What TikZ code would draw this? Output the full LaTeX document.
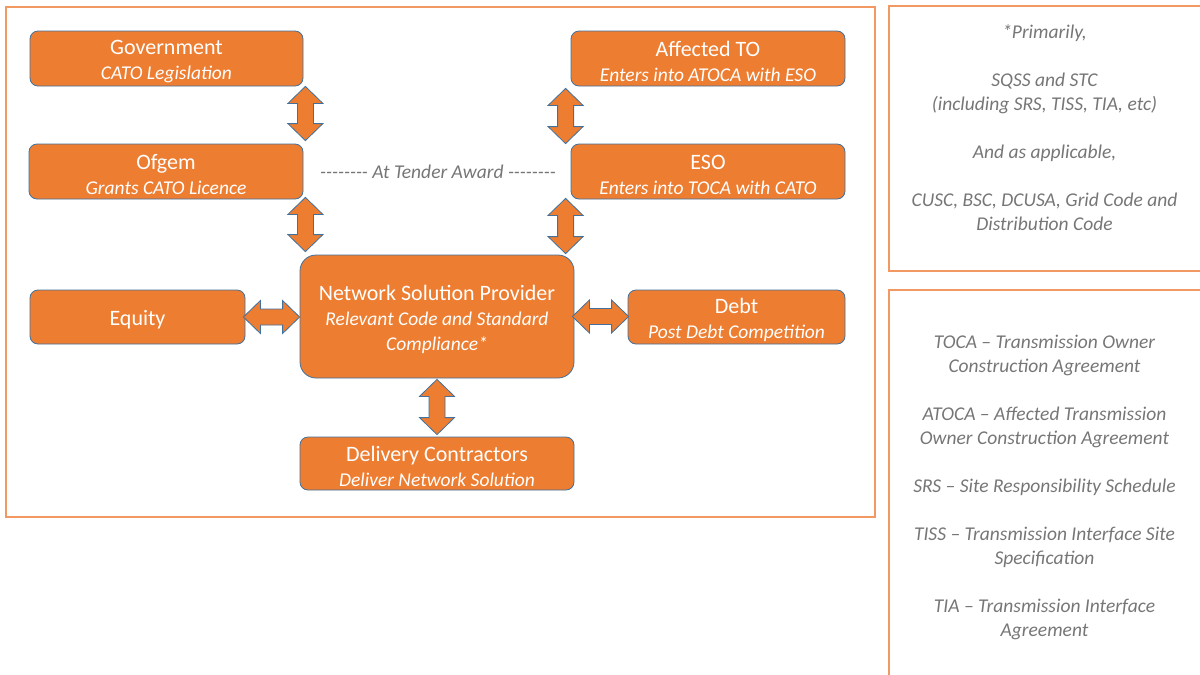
\documentclass[tikz,border=0pt]{standalone}
\usepackage{fontspec}
\setmainfont{Carlito}
\usetikzlibrary{calc}

\definecolor{boxfill}{HTML}{ED7D31}
\definecolor{boxline}{HTML}{41719C}
\definecolor{frameline}{RGB}{242,152,98}
\definecolor{notegray}{RGB}{118,118,118}

\tikzset{
  party/.style={draw=boxline, fill=boxfill, line width=0.8pt, rounded corners=8pt,
    text=white, align=center, inner sep=0pt, font=\fontsize{22}{25}\selectfont},
  blockarrow/.style={draw=boxline, fill=boxfill, line width=0.8pt, line join=miter},
  note/.style={text=notegray, align=center, inner sep=0pt,
    font=\fontsize{19.5}{24}\selectfont\itshape},
  frame/.style={draw=frameline, line width=1.2pt},
}
\newcommand\subline[1]{{\fontsize{19.5}{25}\selectfont\itshape #1}}
\newcommand\hy{\mbox{-}}
% taller first line, so the text block sits a little lower in its box
\newcommand\lift{\rule{0pt}{21pt}}

% vertical double-headed block arrow between two points (x taken from the first)
\newcommand\vdouble[2]{%
  \draw[blockarrow] let \p1=#1, \p2=#2 in
    (\x1,\y1) -- ++(17.5pt,-17pt) -- ++(-9.5pt,0) -- (\x1+8pt,\y2+17pt)
    -- ++(9.5pt,0) -- (\x1,\y2) -- ++(-17.5pt,17pt) -- ++(9.5pt,0)
    -- (\x1-8pt,\y1-17pt) -- ++(-9.5pt,0) -- cycle;}
% horizontal double-headed block arrow between two points (y taken from the first)
\newcommand\hdouble[2]{%
  \draw[blockarrow] let \p1=#1, \p2=#2 in
    (\x1,\y1) -- ++(17pt,16.5pt) -- ++(0,-8.5pt) -- (\x2-17pt,\y1+8pt)
    -- ++(0,8.5pt) -- (\x2,\y1) -- ++(-17pt,-16.5pt) -- ++(0,8.5pt)
    -- (\x1+17pt,\y1-8pt) -- ++(0,-8.5pt) -- cycle;}

\begin{document}
\begin{tikzpicture}[x=1pt,y=-1pt]
\useasboundingbox (0,0) rectangle (1200,675);

% frames
\draw[frame] (6,7) rectangle (875,517);
\draw[frame] (1201,6) -- (889,6) -- (889,271) -- (1201,271);
\draw[frame] (1201,290) -- (889,290) -- (889,676);

% parties
\node[party, minimum width=273pt, minimum height=55pt] (gov) at (166.5,58.5)
  {\lift Government\\\subline{CATO Legislation}};
\node[party, minimum width=274pt, minimum height=55pt] (ofgem) at (166,171.5)
  {\lift Ofgem\\\subline{Grants CATO Licence}};
\node[party, minimum width=274pt, minimum height=55pt] (ato) at (708,58.5)
  {\lift Affected TO\\\subline{Enters into ATOCA with ESO}};
\node[party, minimum width=274pt, minimum height=55pt] (eso) at (708,171.5)
  {\lift ESO\\\subline{Enters into TOCA with CATO}};
\node[party, rounded corners=16pt, minimum width=274pt, minimum height=123pt] (nsp) at (437,316.5)
  {\lift Network Solution Provider\\\subline{Relevant Code and Standard}\\\subline{Compliance*}};
\node[party, minimum width=215pt, minimum height=54pt] (equity) at (137.5,317) {\lift Equity};
\node[party, minimum width=217pt, minimum height=54pt] (debt) at (736.5,317)
  {\lift Debt\\\subline{Post Debt Competition}};
\node[party, minimum width=274pt, minimum height=53pt] (dc) at (437,463.5)
  {\lift Delivery Contractors\\\subline{Deliver Network Solution}};

\node[note] (tender) at (438,172)
  {\hy\hy\hy\hy\hy\hy\hy\hy{} At Tender Award \hy\hy\hy\hy\hy\hy\hy\hy};

% connectors
\vdouble{([xshift=2pt]gov.south east)}{([xshift=2pt,yshift=3pt]ofgem.north east)}
\vdouble{([xshift=2pt,yshift=2pt]ofgem.south east)}{([yshift=3pt]nsp.north west)}
\vdouble{([xshift=-5pt,yshift=-2pt]ato.south west)}{(eso.north west)}
\vdouble{([xshift=-5pt,yshift=1pt]eso.south west)}{([yshift=1pt]nsp.north west)}
\vdouble{([yshift=-1pt]nsp.south)}{([yshift=2pt]dc.north)}
\hdouble{([xshift=-2pt]equity.east)}{(nsp.west)}
\hdouble{([xshift=-2pt]nsp.east)}{([xshift=1pt]debt.west)}

% notes
\node[note] (codes) at (1044.5,127.5)
  {*Primarily,\\[24pt]
   SQSS and STC\\
   (including SRS, TISS, TIA, etc)\\[24pt]
   And as applicable,\\[24pt]
   CUSC, BSC, DCUSA, Grid Code and\\
   Distribution Code};
\node[note] (glossary) at (1044.5,487.5)
  {TOCA – Transmission Owner\\
   Construction Agreement\\[24pt]
   ATOCA – Affected Transmission\\
   Owner Construction Agreement\\[24pt]
   SRS – Site Responsibility Schedule\\[24pt]
   TISS – Transmission Interface Site\\
   Specification\\[24pt]
   TIA – Transmission Interface\\
   Agreement};
\end{tikzpicture}
\end{document}
